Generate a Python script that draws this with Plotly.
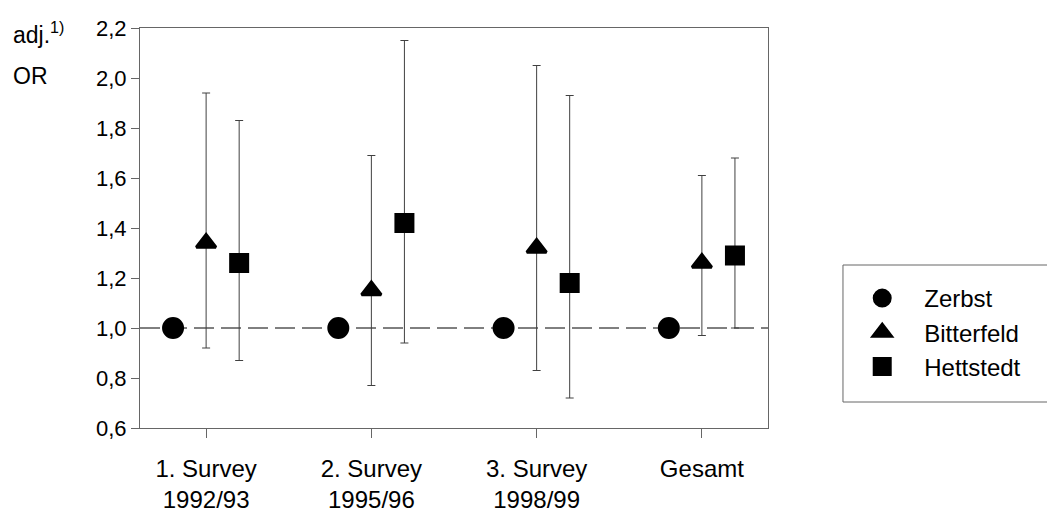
import plotly.graph_objects as go

categories = ["1. Survey<br>1992/93", "2. Survey<br>1995/96", "3. Survey<br>1998/99", "Gesamt"]
series_names = ["Zerbst", "Bitterfeld", "Hettstedt"]

zerbst_or = [1.00, 1.00, 1.00, 1.00]
zerbst_lo = [1.00, 1.00, 1.00, 1.00]
zerbst_hi = [1.00, 1.00, 1.00, 1.00]

bitterfeld_or = [1.34, 1.15, 1.32, 1.26]
bitterfeld_lo = [0.92, 0.77, 0.83, 0.97]
bitterfeld_hi = [1.94, 1.69, 2.05, 1.61]

hettstedt_or = [1.26, 1.42, 1.18, 1.29]
hettstedt_lo = [0.87, 0.94, 0.72, 1.00]
hettstedt_hi = [1.83, 2.15, 1.93, 1.68]

y_ticks = [0.6, 0.8, 1.0, 1.2, 1.4, 1.6, 1.8, 2.0, 2.2]
reference_or = 1.0

offsets = [-0.2, 0.0, 0.2]
symbols = ["circle", "triangle-up", "square"]
sizes = [19, 17, 17]
data = [
    (zerbst_or, zerbst_lo, zerbst_hi),
    (bitterfeld_or, bitterfeld_lo, bitterfeld_hi),
    (hettstedt_or, hettstedt_lo, hettstedt_hi),
]

FONT = "Liberation Sans, Arial, sans-serif"
fig = go.Figure()

for i, (name, (orv, lo, hi)) in enumerate(zip(series_names, data)):
    xs = [k + offsets[i] for k in range(len(categories))]
    has_err = any(h != o for h, o in zip(hi, orv))
    fig.add_trace(go.Scatter(
        x=xs, y=orv, mode="markers", name=name, legendgroup=name,
        marker=dict(symbol=symbols[i], size=sizes[i], color="black",
                    line=dict(color="black", width=3)),
        error_y=dict(
            type="data", symmetric=False,
            array=[h - o for h, o in zip(hi, orv)],
            arrayminus=[o - l for o, l in zip(orv, lo)],
            color="#404040", thickness=1, width=4, visible=has_err,
        ),
    ))

fig.update_layout(
    width=1055, height=513,
    margin=dict(l=132, r=295, t=20, b=93, autoexpand=False),
    paper_bgcolor="white", plot_bgcolor="white",
    separators=",.",
    font=dict(family=FONT, color="black", size=21),
    showlegend=True,
    legend=dict(
        x=1.115, y=0.38, xanchor="left", yanchor="top",
        bgcolor="rgba(0,0,0,0)", borderwidth=0,
        font=dict(size=24, family=FONT),
        tracegroupgap=0, itemwidth=74,
    ),
    xaxis=dict(
        range=[-0.4, 3.4],
        tickmode="array", tickvals=list(range(len(categories))), ticktext=categories,
        ticks="outside", ticklen=9, tickcolor="#666666",
        showline=True, linecolor="#666666", linewidth=1, mirror=True,
        showgrid=False, zeroline=False, automargin=False,
        tickfont=dict(size=24, family=FONT),
        ticklabelstandoff=10,
    ),
    yaxis=dict(
        range=[0.6, 2.2],
        tickmode="array", tickvals=y_ticks, tickformat=".1f",
        ticks="outside", ticklen=8, tickcolor="#666666",
        showline=True, linecolor="#666666", linewidth=1, mirror=True,
        showgrid=False, zeroline=False, automargin=False,
        tickfont=dict(size=22, family=FONT),
    ),
    shapes=[
        dict(type="line", xref="paper", yref="y", x0=0, x1=1, y0=reference_or, y1=reference_or,
             line=dict(color="black", width=1, dash="20px,7px"), layer="below"),
        dict(type="rect", xref="paper", yref="paper",
             x0=1.1194, x1=1.4538, y0=0.065, y1=0.4075,
             line=dict(color="#666666", width=1)),
    ],
    annotations=[
        dict(text="adj.<sup>1)</sup>", x=-0.205, y=0.9875, xref="paper", yref="paper",
             xanchor="left", yanchor="middle", showarrow=False, font=dict(size=23, family=FONT)),
        dict(text="OR", x=-0.205, y=0.88, xref="paper", yref="paper",
             xanchor="left", yanchor="middle", showarrow=False, font=dict(size=23, family=FONT)),
    ],
)

fig.write_html("out.html")
